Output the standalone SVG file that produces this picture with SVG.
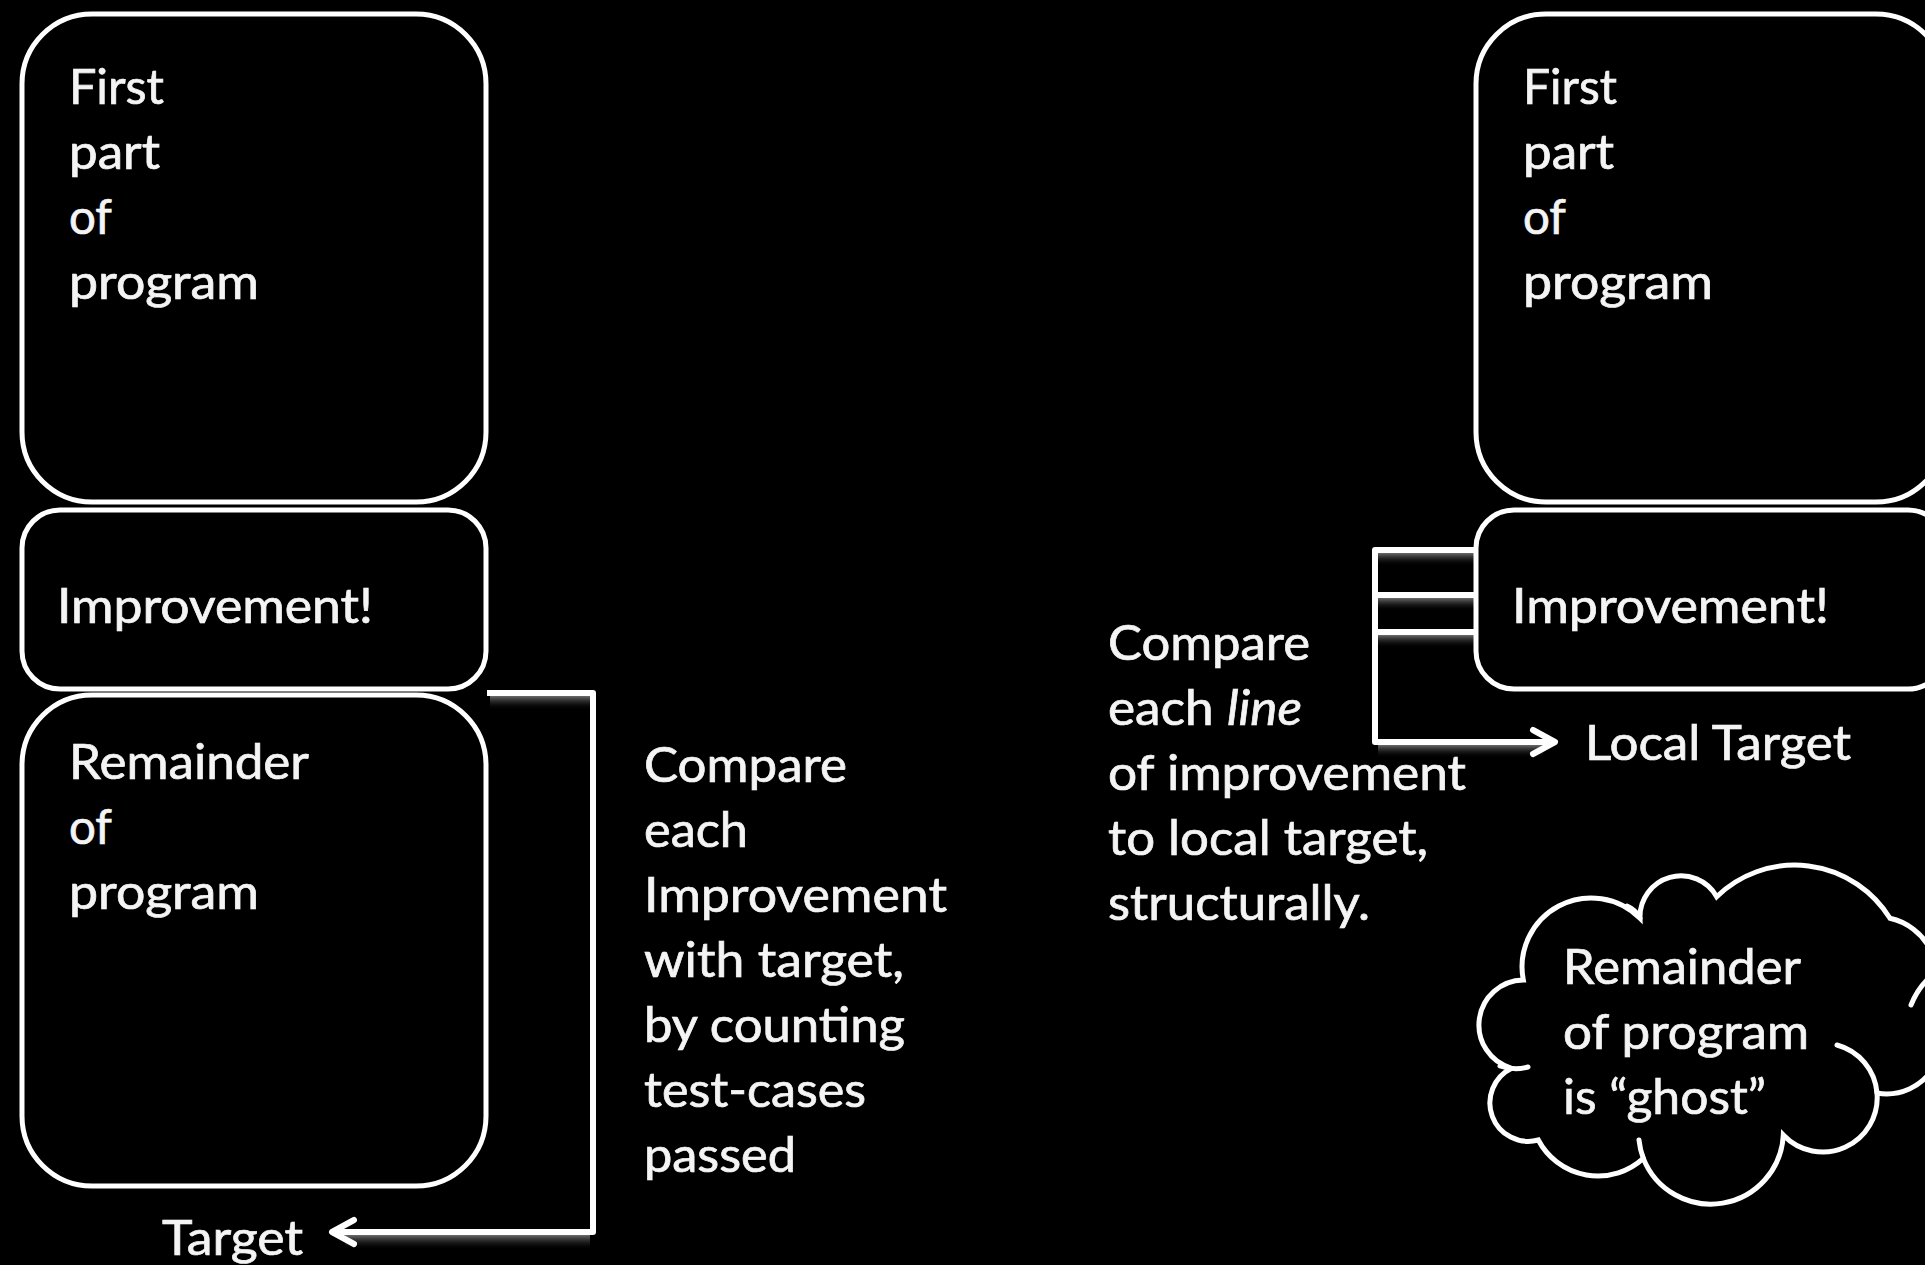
<svg xmlns="http://www.w3.org/2000/svg" width="1925" height="1265" viewBox="0 0 1925 1265">
<style>
  .box { fill: #000; stroke: #fff; stroke-width: 5; }
  .t { font-family: Lato, "Liberation Sans", sans-serif; font-size: 48px; fill: #f4f4f4; stroke: #f4f4f4; stroke-width: 0.7; }
  .con { fill: none; stroke: #fff; stroke-width: 6; stroke-linejoin: round; }
  .stub { fill: none; stroke: #fff; stroke-width: 5; stroke-linecap: round; }
</style>
<defs>
  <marker id="chev" markerUnits="userSpaceOnUse" markerWidth="44" markerHeight="44" viewBox="-32 -22 44 44" refX="0" refY="0" orient="auto">
    <path d="M-22,-12 L0,0 L-22,12" fill="none" stroke="#fff" stroke-width="6" stroke-linejoin="round" stroke-linecap="round"/>
  </marker>
  <linearGradient id="shade" x1="0" y1="0" x2="0" y2="1">
    <stop offset="0" stop-color="#9a9a9a" stop-opacity="0.7"/>
    <stop offset="1" stop-color="#000" stop-opacity="0"/>
  </linearGradient>
</defs>
<rect x="0" y="0" width="1925" height="1265" fill="#000"/>

<g id="connectors">
  <rect x="490" y="696" width="100" height="14" fill="url(#shade)"/>
  <rect x="345" y="1235" width="245" height="15" fill="url(#shade)"/>
  <rect x="1378" y="553" width="96" height="13" fill="url(#shade)"/>
  <rect x="1378" y="598" width="96" height="13" fill="url(#shade)"/>
  <rect x="1378" y="635" width="96" height="13" fill="url(#shade)"/>
  <rect x="1378" y="745" width="165" height="13" fill="url(#shade)"/>
  <path class="con" d="M487,693 H593 V1232 H332" marker-end="url(#chev)"/>
  <path class="con" d="M1476,550 H1375 V742 H1555" marker-end="url(#chev)"/>
  <path class="con" d="M1375,595 H1476"/>
  <path class="con" d="M1375,632 H1476"/>
</g>

<g id="left-first">
  <rect class="box" x="22" y="14" width="464" height="488" rx="70" ry="70"/>
  <text class="t" x="69" y="104" textLength="95" lengthAdjust="spacingAndGlyphs">First</text>
  <text class="t" x="69" y="169" textLength="91" lengthAdjust="spacingAndGlyphs">part</text>
  <text class="t" x="69" y="234" textLength="43" lengthAdjust="spacingAndGlyphs">of</text>
  <text class="t" x="69" y="299" textLength="190" lengthAdjust="spacingAndGlyphs">program</text>
</g>

<g id="left-improvement">
  <rect class="box" x="22" y="510" width="464" height="179" rx="38" ry="38"/>
  <text class="t" x="57" y="623" textLength="316" lengthAdjust="spacingAndGlyphs">Improvement!</text>
</g>

<g id="left-remainder">
  <rect class="box" x="22" y="695" width="464" height="491" rx="70" ry="70"/>
  <text class="t" x="69" y="779" textLength="240" lengthAdjust="spacingAndGlyphs">Remainder</text>
  <text class="t" x="69" y="844" textLength="43" lengthAdjust="spacingAndGlyphs">of</text>
  <text class="t" x="69" y="909" textLength="190" lengthAdjust="spacingAndGlyphs">program</text>
</g>

<g id="left-target">
  <text class="t" x="162" y="1255" textLength="141" lengthAdjust="spacingAndGlyphs">Target</text>
</g>

<g id="left-note">
  <text class="t" x="644" y="782" textLength="203" lengthAdjust="spacingAndGlyphs">Compare</text>
  <text class="t" x="644" y="847" textLength="104" lengthAdjust="spacingAndGlyphs">each</text>
  <text class="t" x="644" y="912" textLength="303" lengthAdjust="spacingAndGlyphs">Improvement</text>
  <text class="t" x="644" y="977" textLength="260" lengthAdjust="spacingAndGlyphs">with target,</text>
  <text class="t" x="644" y="1042" textLength="261" lengthAdjust="spacingAndGlyphs">by counting</text>
  <text class="t" x="644" y="1107" textLength="222" lengthAdjust="spacingAndGlyphs">test-cases</text>
  <text class="t" x="644" y="1172" textLength="152" lengthAdjust="spacingAndGlyphs">passed</text>
</g>

<g id="right-first">
  <rect class="box" x="1476" y="14" width="470" height="488" rx="70" ry="70"/>
  <text class="t" x="1523" y="104" textLength="94" lengthAdjust="spacingAndGlyphs">First</text>
  <text class="t" x="1523" y="169" textLength="91" lengthAdjust="spacingAndGlyphs">part</text>
  <text class="t" x="1523" y="234" textLength="43" lengthAdjust="spacingAndGlyphs">of</text>
  <text class="t" x="1523" y="299" textLength="190" lengthAdjust="spacingAndGlyphs">program</text>
</g>

<g id="right-improvement">
  <rect class="box" x="1476" y="510" width="470" height="179" rx="38" ry="38"/>
  <text class="t" x="1512" y="623" textLength="317" lengthAdjust="spacingAndGlyphs">Improvement!</text>
</g>

<g id="right-local-target">
  <text class="t" x="1585" y="760" textLength="266" lengthAdjust="spacingAndGlyphs">Local Target</text>
</g>

<g id="right-note">
  <text class="t" x="1108" y="660" textLength="202" lengthAdjust="spacingAndGlyphs">Compare</text>
  <text class="t" x="1108" y="725" textLength="194" lengthAdjust="spacingAndGlyphs">each <tspan font-style="italic">line</tspan></text>
  <text class="t" x="1108" y="790" textLength="358" lengthAdjust="spacingAndGlyphs">of improvement</text>
  <text class="t" x="1108" y="855" textLength="320" lengthAdjust="spacingAndGlyphs">to local target,</text>
  <text class="t" x="1108" y="920" textLength="262" lengthAdjust="spacingAndGlyphs">structurally.</text>
</g>

<g id="right-ghost-cloud">
  <path class="box" d="M1523.3,980 A69,69 0 0 1 1640,918.3 A41,41 0 0 1 1716.7,896.7 A112,112 0 0 1 1890,918.3 A60,60 0 0 1 1930,1005 A55,55 0 0 1 1877,1093 A54.4,54.4 0 0 1 1783.3,1135 A72.6,72.6 0 0 1 1643.3,1158.3 A67.3,67.3 0 0 1 1538.3,1140 A38.4,38.4 0 0 1 1511.7,1068.3 A45,45 0 0 1 1523.3,980 Z"/>
  <path class="stub" d="M1877,1093 A54.4,54.4 0 0 0 1837,1045"/>
  <path class="stub" d="M1643.3,1158.3 A72.6,72.6 0 0 1 1639,1140"/>
  <path class="stub" d="M1627,906 Q1636,910 1640,918"/>
  <path class="stub" d="M1500,1066 Q1514,1071 1528,1067"/>
  <path class="stub" d="M1927,980 Q1917,990 1911,1005"/>
  <text class="t" x="1563" y="984" textLength="238" lengthAdjust="spacingAndGlyphs">Remainder</text>
  <text class="t" x="1563" y="1049" textLength="246" lengthAdjust="spacingAndGlyphs">of program</text>
  <text class="t" x="1563" y="1114" textLength="203" lengthAdjust="spacingAndGlyphs">is “ghost”</text>
</g>
</svg>
